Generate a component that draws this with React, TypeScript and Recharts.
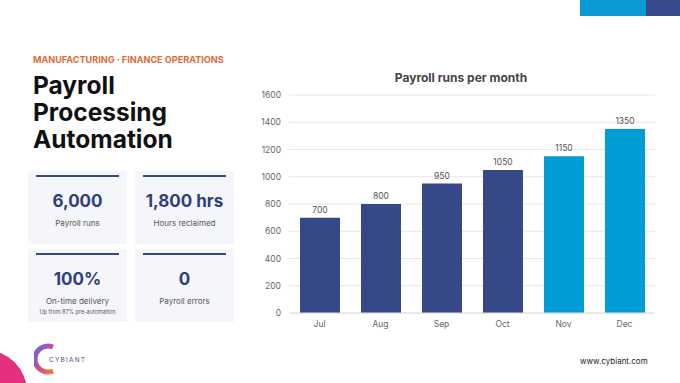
import React from "react";
import {
  BarChart,
  Bar,
  Cell,
  XAxis,
  YAxis,
  CartesianGrid,
  LabelList,
} from "recharts";

// chart data
const months = ["Jul", "Aug", "Sep", "Oct", "Nov", "Dec"];
const runs = [700, 800, 950, 1050, 1150, 1350];
const highlightMonths = ["Nov", "Dec"];
const yTicks = [0, 200, 400, 600, 800, 1000, 1200, 1400, 1600];

// KPI cards
const statValues = ["6,000", "1,800 hrs", "100%", "0"];
const statLabels = ["Payroll runs", "Hours reclaimed", "On-time delivery", "Payroll errors"];
const statNotes = ["", "", "Up from 87% pre-automation", ""];

const NAVY = "#364887";
const CYAN = "#009dd6";
const FONT = "Inter, 'Open Sans', sans-serif";

const chartData = months.map((m, i) => ({ month: m, runs: runs[i] }));

function StatCard({ i }: { i: number }) {
  const col = i % 2;
  const row = Math.floor(i / 2);
  return (
    <div
      style={{
        position: "absolute",
        left: 28 + col * 107,
        top: 171 + row * 78,
        width: 99,
        height: 73,
        background: "#f5f6fa",
        textAlign: "center",
        fontFamily: FONT,
      }}
    >
      <div
        style={{
          position: "absolute",
          left: 8,
          right: 8,
          top: 4,
          height: 2,
          background: NAVY,
        }}
      />
      <div
        style={{
          position: "absolute",
          left: 0,
          right: 0,
          top: 19,
          fontSize: 17,
          fontWeight: 700,
          color: "#2f3f7a",
          lineHeight: "22px",
        }}
      >
        {statValues[i]}
      </div>
      <div
        style={{
          position: "absolute",
          left: 0,
          right: 0,
          top: 46,
          fontSize: 8,
          color: "#555",
          lineHeight: "12px",
        }}
      >
        {statLabels[i]}
      </div>
      {statNotes[i] && (
        <div
          style={{
            position: "absolute",
            left: 0,
            right: 0,
            top: 59,
            fontSize: 5.5,
            color: "#555",
            lineHeight: "8px",
          }}
        >
          {statNotes[i]}
        </div>
      )}
    </div>
  );
}

export default function App() {
  return (
    <div
      style={{
        position: "fixed",
        left: 0,
        top: 0,
        width: 680,
        height: 383,
        background: "#ffffff",
        overflow: "hidden",
        fontFamily: FONT,
      }}
    >
      {/* top right accent bars */}
      <div style={{ position: "absolute", left: 580, top: 0, width: 66, height: 16, background: "#0a9ad6" }} />
      <div style={{ position: "absolute", left: 646, top: 0, width: 34, height: 16, background: "#374a8e" }} />

      {/* header text */}
      <div
        style={{
          position: "absolute",
          left: 33,
          top: 54,
          fontSize: 9.1,
          fontWeight: 700,
          color: "#e0693c",
          whiteSpace: "nowrap",
        }}
      >
        MANUFACTURING · FINANCE OPERATIONS
      </div>
      <div
        style={{
          position: "absolute",
          left: 33,
          top: 72,
          fontSize: 24.5,
          fontWeight: 700,
          lineHeight: "27px",
          color: "#111",
        }}
      >
        Payroll
        <br />
        Processing
        <br />
        Automation
      </div>

      {[0, 1, 2, 3].map((i) => (
        <StatCard key={i} i={i} />
      ))}

      {/* chart title */}
      <div
        style={{
          position: "absolute",
          left: 290,
          width: 342,
          top: 70,
          textAlign: "center",
          fontSize: 12,
          fontWeight: 700,
          color: "#444",
        }}
      >
        Payroll runs per month
      </div>

      <div style={{ position: "absolute", left: 240, top: 85 }}>
        <BarChart
          width={425}
          height={250}
          data={chartData}
          margin={{ top: 10, right: 10, left: 0, bottom: 0 }}
        >
          <CartesianGrid vertical={false} stroke="#e6e6e6" />
          <XAxis
            dataKey="month"
            axisLine={{ stroke: "#e0e0e0" }}
            tickLine={false}
            height={22}
            tick={{ fontSize: 8.5, fill: "#666", fontFamily: FONT }}
          />
          <YAxis
            width={49}
            domain={[0, 1600]}
            ticks={yTicks}
            axisLine={false}
            tickLine={false}
            tick={{ fontSize: 8.5, fill: "#666", fontFamily: FONT }}
          />
          <Bar dataKey="runs" barSize={40} isAnimationActive={false}>
            {chartData.map((d) => (
              <Cell key={d.month} fill={highlightMonths.includes(d.month) ? CYAN : NAVY} />
            ))}
            <LabelList
              dataKey="runs"
              position="top"
              offset={5}
              style={{ fontSize: 8.5, fill: "#555", fontFamily: FONT }}
            />
          </Bar>
        </BarChart>
      </div>

      {/* footer */}
      <div
        style={{
          position: "absolute",
          left: -57,
          top: 350,
          width: 84,
          height: 84,
          borderRadius: "50%",
          background: "#e5307f",
        }}
      />
      <svg style={{ position: "absolute", left: 34, top: 343 }} width={70} height={32}>
        <defs>
          <linearGradient id="logoGrad" x1="0" y1="0" x2="1" y2="1">
            <stop offset="0%" stopColor="#5b6fd8" />
            <stop offset="50%" stopColor="#c94a9a" />
            <stop offset="100%" stopColor="#f07a3c" />
          </linearGradient>
        </defs>
        <path
          d="M 19 4 A 13 13 0 1 0 19 28"
          fill="none"
          stroke="url(#logoGrad)"
          strokeWidth={5}
        />
        <text x={15} y={18.5} fontSize={6.5} fill="#4a4f7a" letterSpacing={1.2} fontFamily={FONT}>
          CYBIANT
        </text>
      </svg>
      <div
        style={{
          position: "absolute",
          left: 580,
          top: 356,
          fontSize: 8,
          color: "#222",
        }}
      >
        www.cybiant.com
      </div>
    </div>
  );
}
